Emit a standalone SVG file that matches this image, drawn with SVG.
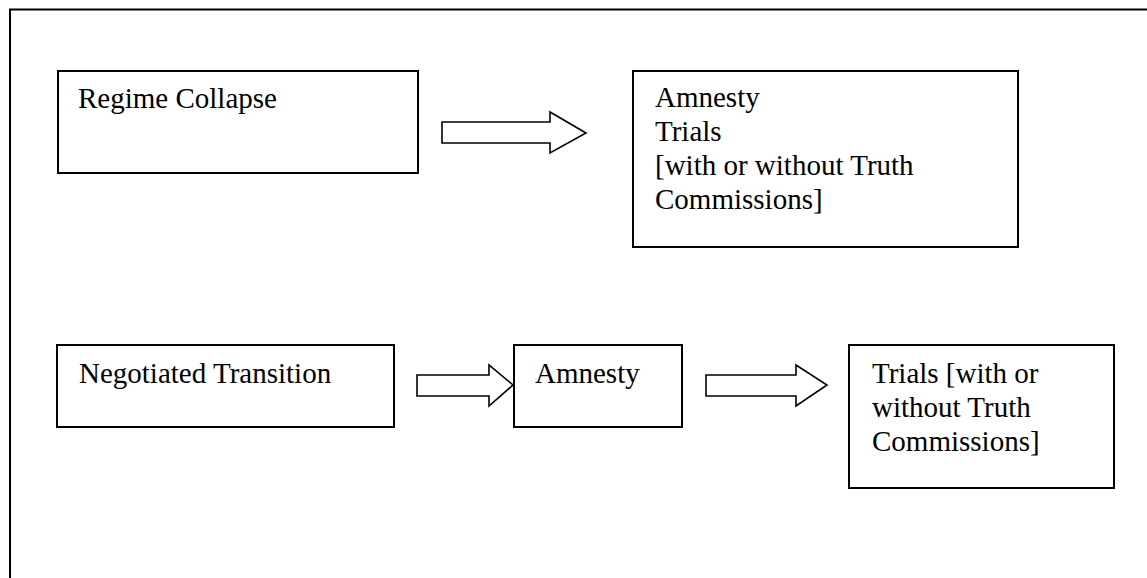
<svg xmlns="http://www.w3.org/2000/svg" width="1147" height="578" viewBox="0 0 1147 578">
<style>
.box{fill:#fff;stroke:#000;stroke-width:2}
.arr{fill:#fff;stroke:#000;stroke-width:1.6;stroke-linejoin:miter}
text{font-family:"Liberation Serif","Times New Roman",serif;font-size:29px;fill:#000}
</style>
<rect width="1147" height="578" fill="#fff"/>
<g id="frame"><path d="M10,578 V9.5 H1147" fill="none" stroke="#000" stroke-width="2"/></g>
<g id="node-regime-collapse">
<rect class="box" x="58" y="71" width="360" height="102"/>
<text x="78" y="108">Regime Collapse</text>
</g>
<g id="node-amnesty-trials">
<rect class="box" x="633" y="71" width="385" height="176"/>
<text x="655" y="107">Amnesty</text>
<text x="655" y="141">Trials</text>
<text x="655" y="175">[with or without Truth</text>
<text x="655" y="209">Commissions]</text>
</g>
<g id="node-negotiated-transition">
<rect class="box" x="57" y="345" width="337" height="82"/>
<text x="79" y="383">Negotiated Transition</text>
</g>
<g id="node-amnesty">
<rect class="box" x="514" y="345" width="168" height="82"/>
<text x="535" y="383">Amnesty</text>
</g>
<g id="node-trials">
<rect class="box" x="849" y="345" width="265" height="143"/>
<text x="872" y="383">Trials [with or</text>
<text x="872" y="417">without Truth</text>
<text x="872" y="451">Commissions]</text>
</g>
<g id="connectors">
<polygon class="arr" points="442,122 550,122 550,112 586,133 550,153 550,143 442,143"/>
<polygon class="arr" points="417,375 489,375 489,365 513,385 489,406 489,396 417,396"/>
<polygon class="arr" points="706,375 796,375 796,365 827,385 796,406 796,396 706,396"/>
</g>
</svg>
